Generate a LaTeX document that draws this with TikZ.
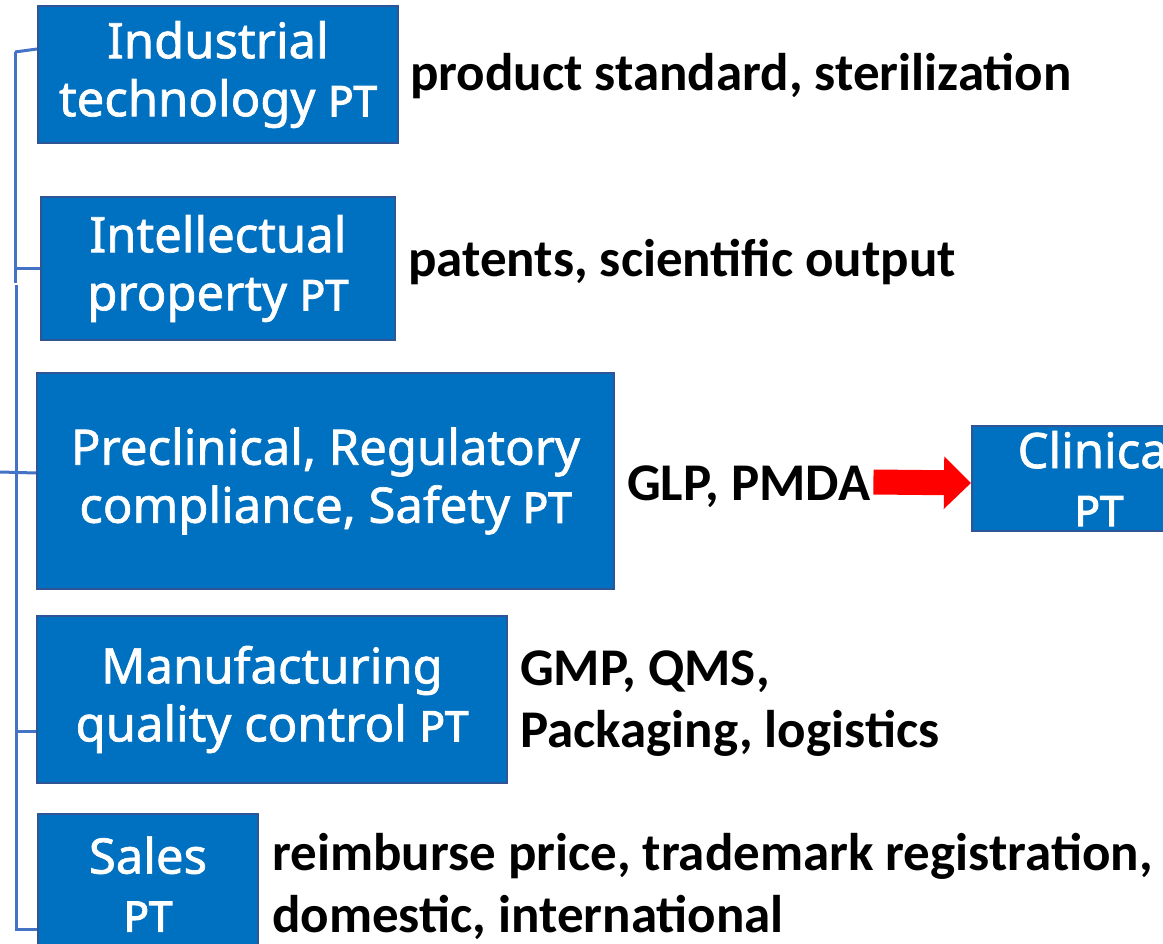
\documentclass[tikz,border=0pt]{standalone}
\usepackage{fontspec}
\setmainfont{Carlito}
\newfontfamily\boxfont[FakeBold=1.4]{Noto Sans}
\newfontfamily\ptfont[FakeBold=2.8]{Noto Sans}
\usetikzlibrary{arrows.meta}
\definecolor{boxblue}{HTML}{0070C0}
\definecolor{boxedge}{HTML}{2F5597}
\definecolor{linkblue}{HTML}{4472C4}
\definecolor{arrowred}{HTML}{FF0000}
\newcommand{\ptmark}{{\ptfont\fontsize{42}{58}\selectfont PT}}
\begin{document}
\begin{tikzpicture}[x=1pt,y=-1pt,
  pbox/.style={draw=boxedge, line width=2pt, fill=boxblue, text=white, align=center,
    inner sep=0pt, anchor=north west, font=\boxfont\fontsize{49}{58}\selectfont},
  note/.style={anchor=west, align=left, inner sep=0pt, font=\bfseries\fontsize{53}{62}\selectfont},
  link/.style={draw=linkblue, line width=3pt},
  bigarrow/.style={draw=arrowred, line width=25pt, -{Triangle[width=51pt,length=27pt]}}]
\useasboundingbox (0,0) rectangle (1163,944);
\clip (0,0) rectangle (1163,944);

% boxes
\node[pbox, minimum width=360pt, minimum height=137pt] (b1) at (37,5) {Industrial\\technology \ptmark};
\node[pbox, minimum width=354pt, minimum height=143pt] (b2) at (40,196) {Intellectual\\property \ptmark};
\node[pbox, minimum width=577pt, minimum height=216pt] (b3) at (36,372) {Preclinical, Regulatory\\compliance, Safety \ptmark};
\node[pbox, minimum width=470pt, minimum height=167pt] (b4) at (36,615) {Manufacturing\\quality control \ptmark};
\node[pbox, minimum width=220pt, minimum height=140pt] (b5) at (37,813) {Sales\\\ptmark};
\node[pbox, minimum width=254pt, minimum height=105pt] (clin) at (971,425) {Clinical\\\ptmark};

% notes
\node[note] (n1) at (410,76) {product standard, sterilization};
\node[note] (n2) at (408,262) {patents, scientific output};
\node[note] (n3) at (627,487) {GLP, PMDA};
\node[note] (n4) at (520,704) {GMP, QMS,\\Packaging, logistics};
\node[note] (n5) at (272,886) {reimburse price, trademark registration,\\domestic, international};

% arrow
\draw[bigarrow] ([xshift=3pt,yshift=5pt]n3.east) -- ([yshift=-4.5pt]clin.west);

% bracket links
\coordinate (v1t) at (15,52);
\coordinate (v1b) at (15,283);
\coordinate (v2t) at (16,285);
\coordinate (v2b) at (16,929);
\coordinate (stub) at (0,472);
\coordinate (j4) at (16,731);
\draw[link] (v1t) -- ([yshift=-44pt]b1.north west);
\draw[link] (v1t) -- (v1b);
\draw[link] (v1t |- b2.west) -- (b2.west);
\draw[link] (v2t) -- (v2b) -- (v2b -| b5.west);
\draw[link] (stub) -- ([yshift=8pt]b3.west);
\draw[link] (j4) -- (j4 -| b4.west);
\end{tikzpicture}
\end{document}
